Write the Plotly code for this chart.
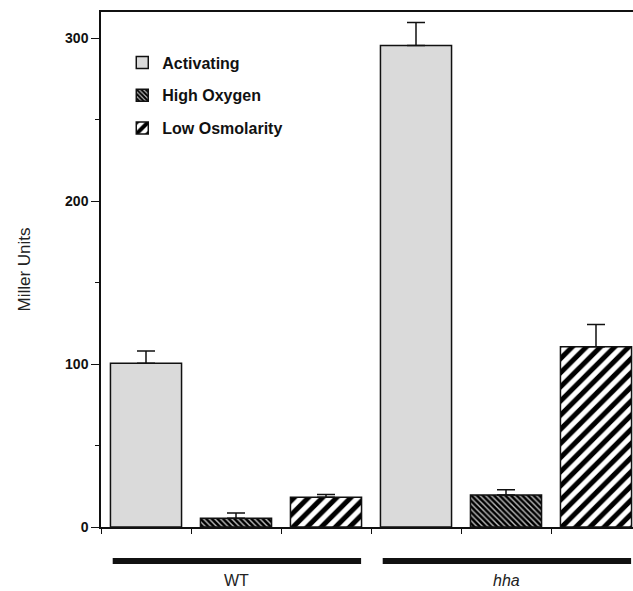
import plotly.graph_objects as go

groups = ["WT", "hha"]
group_labels = ["WT", "<i>hha</i>"]
conditions = ["Activating", "High Oxygen", "Low Osmolarity"]
activating = [100.5, 295.5]
activating_err = [7.5, 14.0]
high_oxygen = [5.3, 19.7]
high_oxygen_err = [3.3, 3.2]
low_osmolarity = [18.3, 110.6]
low_osmolarity_err = [1.6, 13.7]
y_ticks = [0, 100, 200, 300]
y_minor_ticks = [50, 150, 250]

values = [activating, high_oxygen, low_osmolarity]
errors = [activating_err, high_oxygen_err, low_osmolarity_err]
styles = [
    dict(color="#dadada", pattern=dict(shape="")),
    dict(color="#bdbdbd", pattern=dict(shape="\\", fgcolor="#000000", bgcolor="#bdbdbd",
                                       fgopacity=1, size=4, solidity=0.65)),
    dict(color="white", pattern=dict(shape="/", fgcolor="#000000", bgcolor="white",
                                     fgopacity=1, size=10, solidity=0.5)),
]

n_cond = len(conditions)
fig = go.Figure()
for ci, name in enumerate(conditions):
    xs = [gi * n_cond + ci for gi in range(len(groups))]
    fig.add_trace(go.Bar(
        x=xs, y=values[ci], name=name, width=0.79,
        legendgroup=name,
        marker=dict(color=styles[ci]["color"], pattern=styles[ci]["pattern"],
                    line=dict(color="#111111", width=1.5)),
        error_y=dict(type="data", array=errors[ci], arrayminus=[0] * len(groups),
                     symmetric=False, color="#111111", thickness=1.5, width=9),
    ))

n_slots = n_cond * len(groups)
boundaries = [i - 0.5 for i in range(n_slots + 1)]

# group bars and labels under the axis
for gi, lab in enumerate(group_labels):
    start = gi * n_cond - 0.5
    end = start + n_cond
    fig.add_shape(type="line", xref="x", yref="paper",
                  x0=start + 0.13, x1=end - 0.11, y0=-0.066, y1=-0.066,
                  line=dict(color="#111111", width=6))
    fig.add_annotation(x=(start + end) / 2, xref="x", y=-0.1243, yref="paper",
                       text=lab, showarrow=False, yanchor="bottom",
                       font=dict(family="Liberation Sans", size=16, color="#222222"))

fig.update_layout(
    width=633, height=591,
    margin=dict(l=101, r=0, t=12, b=64),
    plot_bgcolor="white", paper_bgcolor="white",
    barmode="overlay",
    showlegend=True,
    legend=dict(x=0.04, y=0.935, xanchor="left", yanchor="top",
                font=dict(family="Liberation Sans", size=16, color="#111111", weight="bold"),
                tracegroupgap=9, bgcolor="rgba(0,0,0,0)"),
    font=dict(family="Liberation Sans", color="#111111"),
)
fig.update_xaxes(
    range=[-0.5, -0.5 + 532 / 90], showgrid=False, zeroline=False,
    showline=True, linecolor="#111111", linewidth=1.5, mirror=True,
    tickmode="array", tickvals=boundaries, ticktext=[""] * len(boundaries),
    ticks="outside", ticklen=5, tickcolor="#111111", tickwidth=1.2,
)
fig.update_yaxes(
    range=[0, 316], showgrid=False, zeroline=False,
    showline=True, linecolor="#111111", linewidth=1.5,
    tickmode="array", tickvals=y_ticks, ticktext=[str(v) for v in y_ticks],
    ticks="outside", ticklen=8, tickcolor="#111111", tickwidth=1.2,
    tickfont=dict(family="Liberation Sans", size=14, color="#111111", weight="bold"),
    minor=dict(tickvals=y_minor_ticks, ticks="outside", ticklen=4, tickcolor="#111111", tickwidth=1.2),
    title=dict(text="Miller Units", standoff=30,
               font=dict(family="Liberation Sans", size=17, color="#222222")),
)
fig.write_html("out.html")
